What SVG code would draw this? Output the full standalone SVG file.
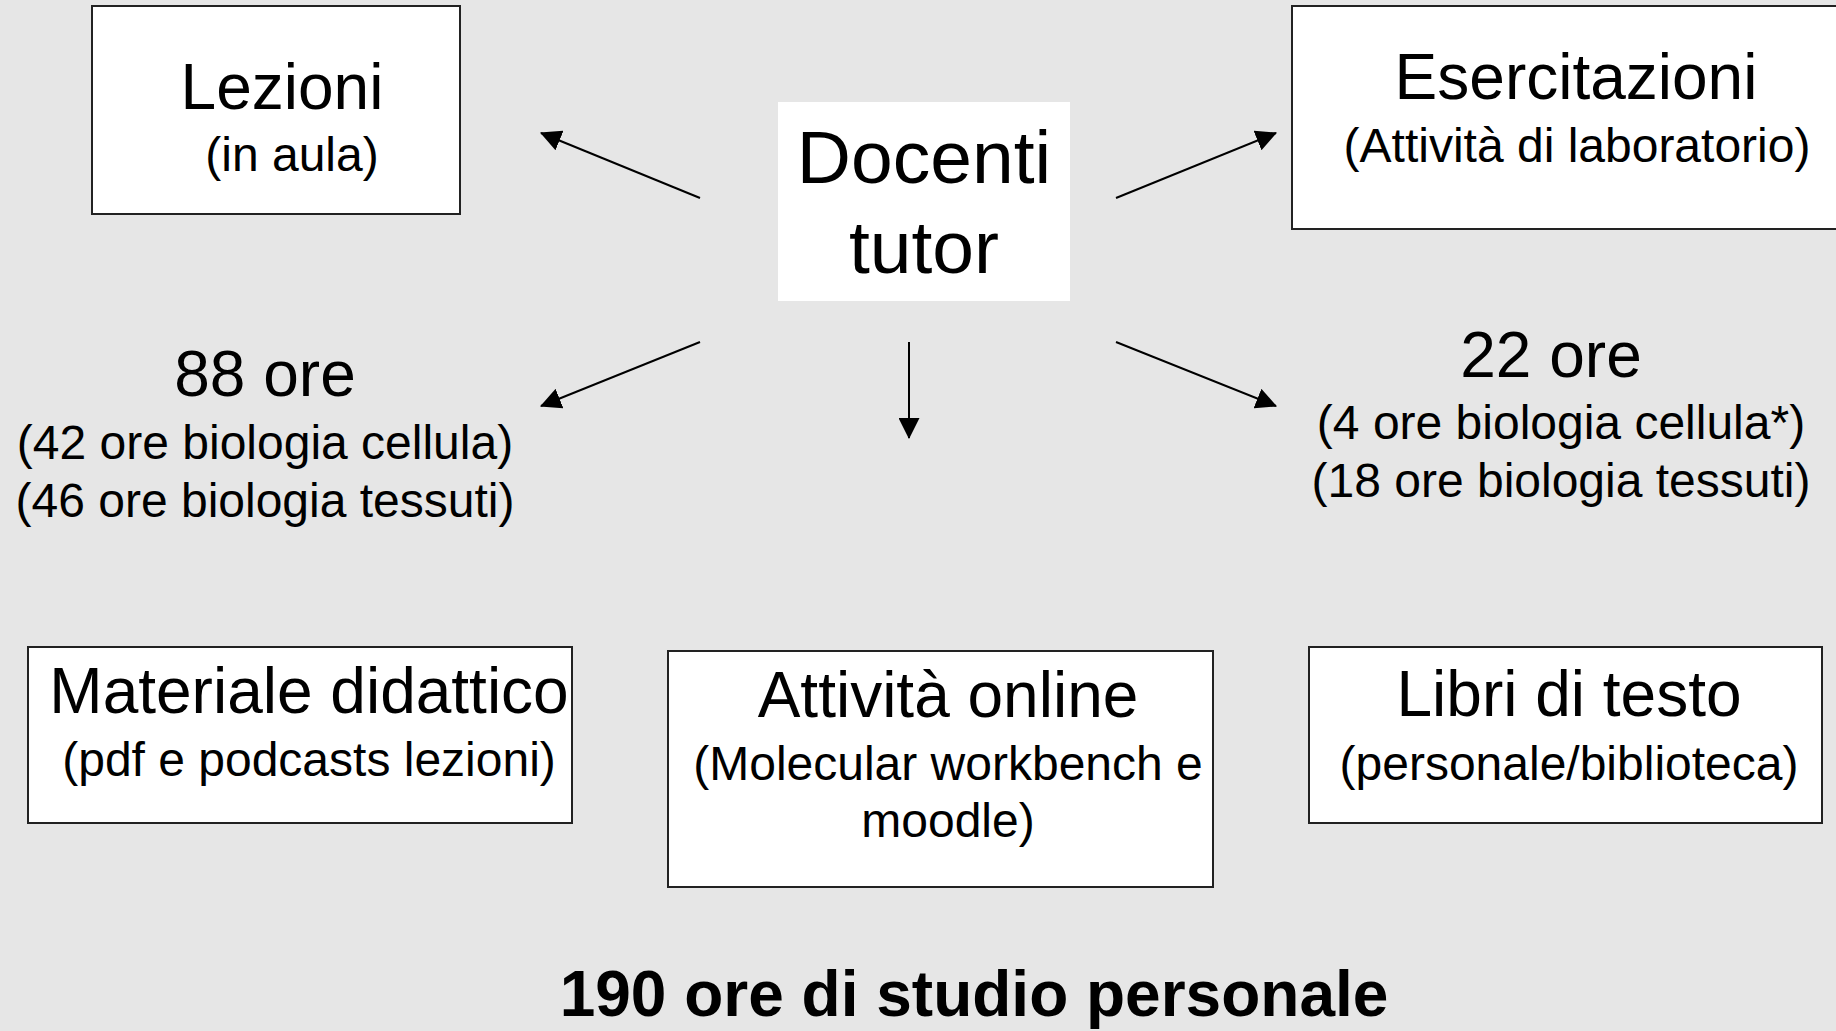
<svg xmlns="http://www.w3.org/2000/svg" width="1836" height="1031" viewBox="0 0 1836 1031">
<defs>
<style>
.box{fill:#ffffff;stroke:#222222;stroke-width:2}
.t{font-family:"Liberation Sans",Arial,sans-serif;fill:#000000;text-anchor:middle}
.big{font-size:64px}
.doc{font-size:75px}
.sub{font-size:48px}
.bold{font-size:64px;font-weight:bold}
.con{stroke:#000000;stroke-width:2;fill:none;marker-end:url(#ah)}
</style>
<marker id="ah" viewBox="0 0 20 20" refX="19" refY="10" markerWidth="21" markerHeight="21" markerUnits="userSpaceOnUse" orient="auto">
<path d="M0,0 L20,10 L0,20 Z" fill="#000000"/>
</marker>
</defs>
<rect x="0" y="0" width="1836" height="1031" fill="#e6e6e6"/>

<g id="connectors">
<line class="con" x1="700" y1="198" x2="541" y2="133"/>
<line class="con" x1="1116" y1="198" x2="1276" y2="133"/>
<line class="con" x1="700" y1="342" x2="541" y2="406"/>
<line class="con" x1="1116" y1="342" x2="1276" y2="406"/>
<line class="con" x1="909" y1="342" x2="909" y2="438"/>
</g>

<g id="lezioni">
<rect class="box" x="92" y="6" width="368" height="208"/>
<text class="t big" x="282" y="109">Lezioni</text>
<text class="t sub" x="292" y="171">(in aula)</text>
</g>

<g id="docenti">
<rect x="778" y="102" width="292" height="199" fill="#ffffff"/>
<text class="t doc" x="924" y="183">Docenti</text>
<text class="t doc" x="924" y="273">tutor</text>
</g>

<g id="esercitazioni">
<rect class="box" x="1292" y="6" width="545" height="223"/>
<text class="t big" x="1576" y="99">Esercitazioni</text>
<text class="t sub" x="1577" y="162">(Attività di laboratorio)</text>
</g>

<g id="ore88">
<text class="t big" x="265" y="396">88 ore</text>
<text class="t sub" x="265" y="459">(42 ore biologia cellula)</text>
<text class="t sub" x="265" y="517">(46 ore biologia tessuti)</text>
</g>

<g id="ore22">
<text class="t big" x="1551" y="377">22 ore</text>
<text class="t sub" x="1561" y="439">(4 ore biologia cellula*)</text>
<text class="t sub" x="1561" y="497">(18 ore biologia tessuti)</text>
</g>

<g id="materiale">
<rect class="box" x="28" y="647" width="544" height="176"/>
<text class="t big" x="309" y="713">Materiale didattico</text>
<text class="t sub" x="309" y="776">(pdf e podcasts lezioni)</text>
</g>

<g id="online">
<rect class="box" x="668" y="651" width="545" height="236"/>
<text class="t big" x="948" y="717">Attività online</text>
<text class="t sub" x="948" y="780">(Molecular workbench e</text>
<text class="t sub" x="948" y="837">moodle)</text>
</g>

<g id="libri">
<rect class="box" x="1309" y="647" width="513" height="176"/>
<text class="t big" x="1569" y="716">Libri di testo</text>
<text class="t sub" x="1569" y="780">(personale/biblioteca)</text>
</g>

<g id="studio">
<text class="t bold" x="974" y="1016">190 ore di studio personale</text>
</g>
</svg>
